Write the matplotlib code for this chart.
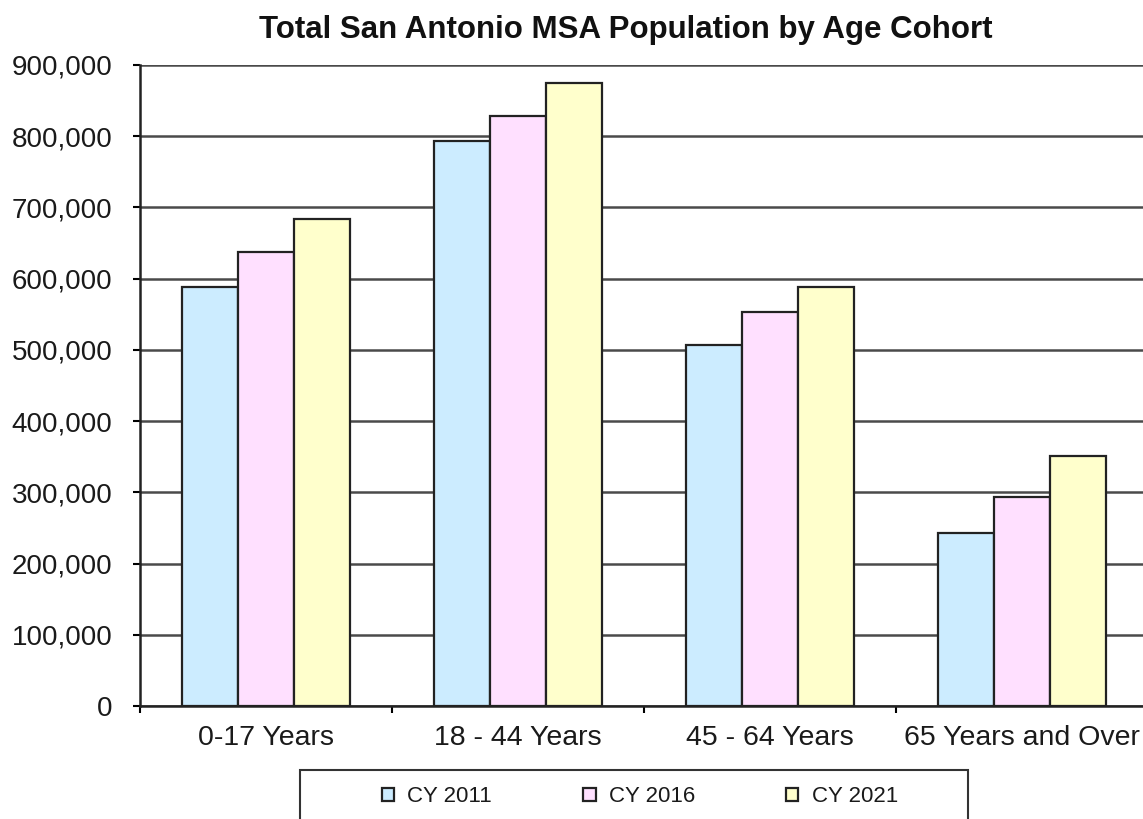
import matplotlib.pyplot as plt
import numpy as np
from matplotlib.patches import Rectangle
from matplotlib.ticker import FuncFormatter

plt.rcParams['font.family'] = ['Liberation Sans', 'DejaVu Sans']

# Data
cohorts = ["0-17 Years", "18 - 44 Years", "45 - 64 Years", "65 Years and Over"]
years = ["CY 2011", "CY 2016", "CY 2021"]
cy2011 = [588000, 793000, 507000, 243000]
cy2016 = [637000, 828000, 553000, 293000]
cy2021 = [684000, 875000, 588000, 351000]
colors = ['#CCECFF', '#FFE0FF', '#FFFFCC']

W, H = 1143, 819
fig = plt.figure(figsize=(W / 100, H / 100), dpi=100)
ax = fig.add_axes([140 / W, 1 - 706 / H, 1008 / W, (706 - 65) / H])

x = np.arange(len(cohorts))
bw = 0.222
for k, (vals, c, lab) in enumerate(zip([cy2011, cy2016, cy2021], colors, years)):
    ax.bar(x + (k - 1) * bw, vals, width=bw, color=c, edgecolor='#222222',
           linewidth=1.6, label=lab, zorder=3)

ax.set_xlim(-0.5, 3.5)
ax.set_ylim(0, 900000)
ax.set_yticks(np.arange(0, 900001, 100000))
ax.yaxis.set_major_formatter(FuncFormatter(lambda v, p: f"{int(v):,}"))
ax.yaxis.grid(True, color='#4a4a4a', linewidth=1.8, zorder=0)
ax.set_axisbelow(True)

# category labels sit between the boundary ticks
ax.set_xticks(np.arange(-0.5, 3.6, 1.0))
ax.set_xticklabels([])
ax.set_xticks(x, minor=True)
ax.set_xticklabels(cohorts, minor=True)
ax.tick_params(axis='x', which='minor', length=0, pad=14, labelsize=20.5, colors='#1a1a1a')
ax.tick_params(axis='x', which='major', length=5, width=1.5, direction='out')
ax.tick_params(axis='y', length=5, width=1.5, direction='out', labelsize=20, pad=15,
               labelcolor='#1a1a1a')

for s in ['top', 'right']:
    ax.spines[s].set_visible(False)
for s in ['left', 'bottom']:
    ax.spines[s].set_linewidth(1.8)
    ax.spines[s].set_color('#222222')

fig.text(626 / W, 1 - 38 / H, "Total San Antonio MSA Population by Age Cohort",
         ha='center', va='baseline', fontsize=22.5, fontweight='bold', color='#111111')

# legend box at the bottom, cut by the figure edge
fig.patches.append(Rectangle((300 / W, -0.01), 668 / W, 49 / H + 0.01, transform=fig.transFigure,
                             facecolor='white', edgecolor='#333333', linewidth=1.5))
handles, labels = ax.get_legend_handles_labels()
leg = fig.legend(handles, labels, loc='center', bbox_to_anchor=(640 / W, 1 - 797 / H),
                 ncol=3, frameon=False, fontsize=16, handlelength=0.55, handleheight=0.55,
                 handletextpad=0.6, columnspacing=4.1)
for t in leg.get_texts():
    t.set_color('#1a1a1a')

fig.savefig("out.png", dpi=100)
